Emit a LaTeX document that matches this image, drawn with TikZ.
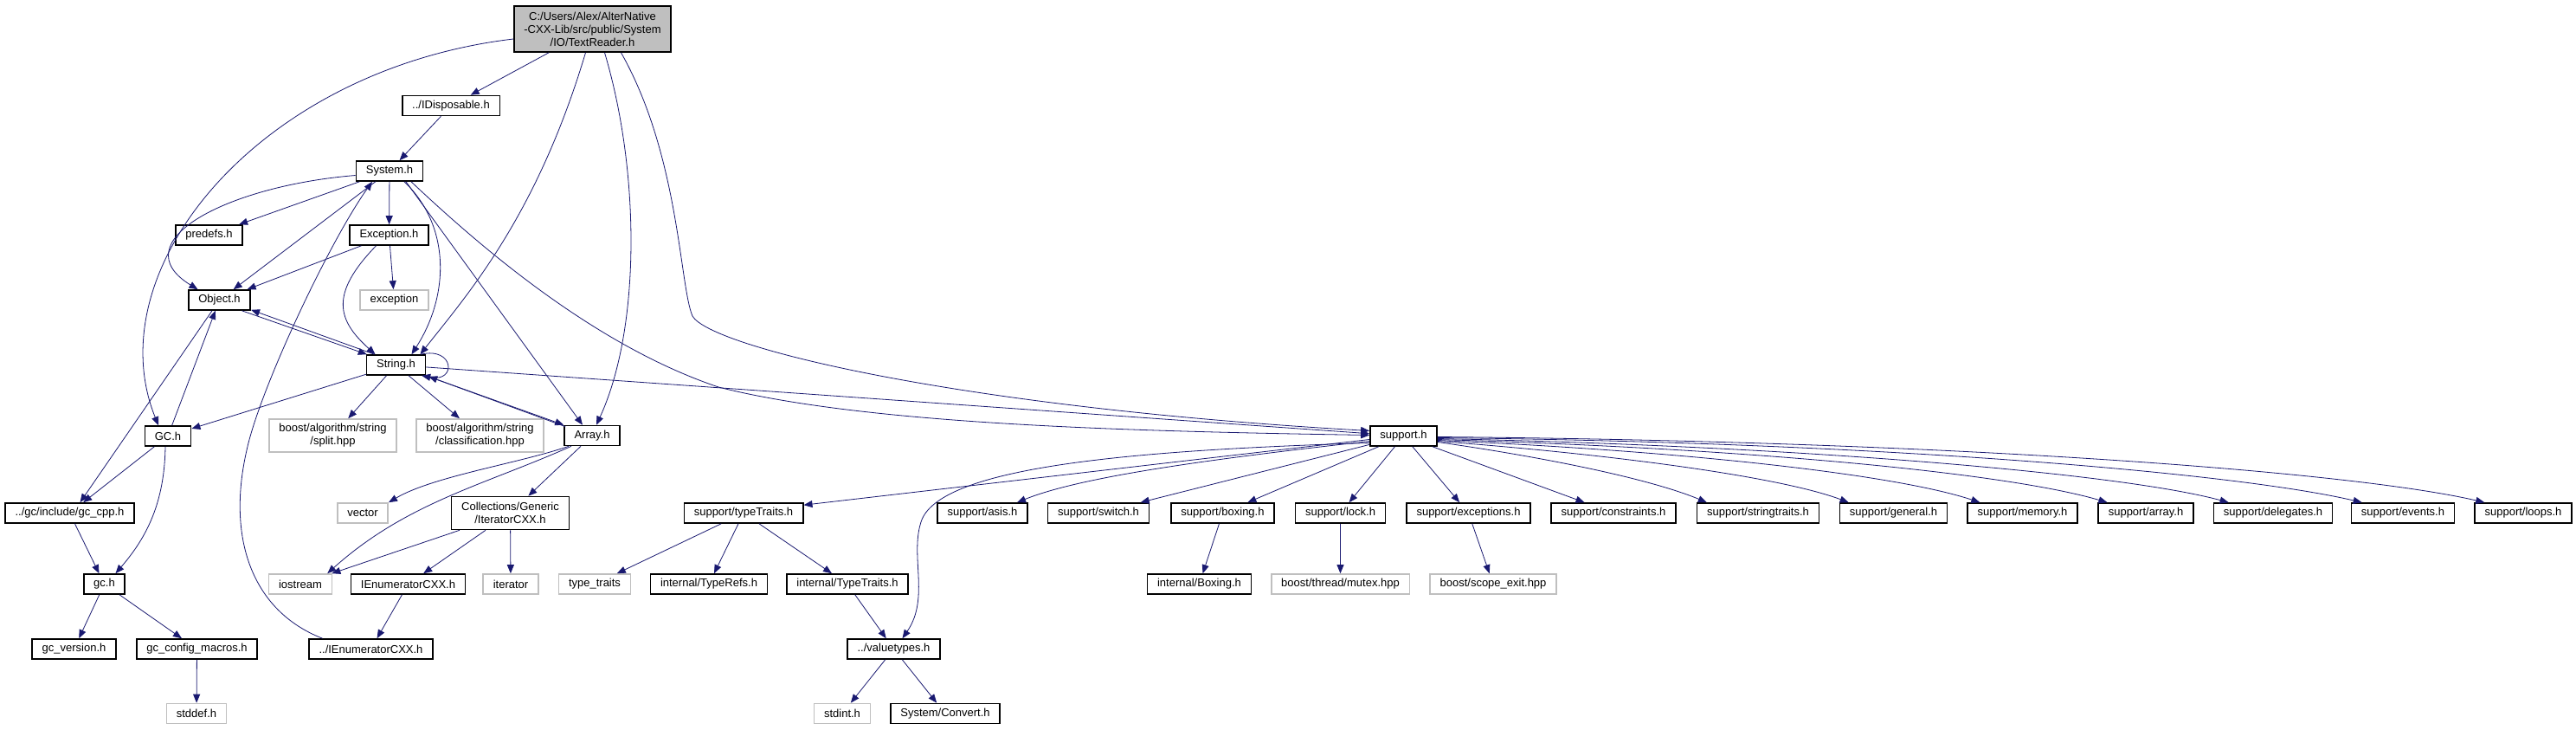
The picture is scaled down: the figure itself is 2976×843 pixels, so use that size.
\documentclass[tikz,border=0pt]{standalone}
\usepackage{fontspec}
\setmainfont{Liberation Sans}
\usetikzlibrary{arrows.meta}
\definecolor{incblue}{HTML}{191970}
\definecolor{extgray}{HTML}{BFBFBF}

\begin{document}
\begin{tikzpicture}[
  x=1pt, y=-1pt,
  hfile/.style={rectangle, draw=black, line width=1.6pt, fill=white,
                inner xsep=11.5pt, inner ysep=2pt, minimum height=23pt,
                align=center, font=\fontsize{13}{15}\selectfont},
  extfile/.style={hfile, draw=extgray},
  rootfile/.style={hfile, fill=extgray, minimum height=53pt},
  twoline/.style={minimum height=38pt},
  inc/.style={-{Triangle[length=10pt,width=8pt]}, color=incblue, line width=0.8pt}
]
  \useasboundingbox (0,0) rectangle (2976,843);

  % Files
  \node[rootfile] (tr) at (684.5,33.5) {C:/Users/Alex/AlterNative\\-CXX-Lib/src/public/System\\/IO/TextReader.h};
  \node[hfile] (idisp) at (521,122) {../IDisposable.h};
  \node[hfile] (sysh) at (450,197.5) {System.h};
  \node[hfile] (predefs) at (241.5,271.5) {predefs.h};
  \node[hfile] (exch) at (449.5,271.5) {Exception.h};
  \node[hfile] (objh) at (253.5,346.5) {Object.h};
  \node[extfile] (excstd) at (455.5,346.5) {exception};
  \node[hfile] (strh) at (457.5,421.5) {String.h};
  \node[hfile] (gcmain) at (194,503.5) {GC.h};
  \node[extfile, twoline] (split) at (384.5,503) {boost/algorithm/string\\/split.hpp};
  \node[extfile, twoline] (classif) at (554.5,503) {boost/algorithm/string\\/classification.hpp};
  \node[hfile] (arrh) at (684,503) {Array.h};
  \node[hfile] (supp) at (1621.5,503.5) {support.h};
  \node[hfile] (gccpp) at (80.5,592.5) {../gc/include/gc\_cpp.h};
  \node[extfile] (vector) at (419,592.5) {vector};
  \node[hfile, twoline] (coll) at (589.5,592.5) {Collections/Generic\\/IteratorCXX.h};
  \node[hfile] (tt) at (859,592.5) {support/typeTraits.h};
  \node[hfile] (asis) at (1135,592.5) {support/asis.h};
  \node[hfile] (switch) at (1269,592.5) {support/switch.h};
  \node[hfile] (boxing) at (1412.5,592.5) {support/boxing.h};
  \node[hfile] (lock) at (1548.5,592.5) {support/lock.h};
  \node[hfile] (sexc) at (1696.5,592.5) {support/exceptions.h};
  \node[hfile] (constr) at (1864,592.5) {support/constraints.h};
  \node[hfile] (strtr) at (2031,592.5) {support/stringtraits.h};
  \node[hfile] (general) at (2187.5,592.5) {support/general.h};
  \node[hfile] (memory) at (2336.5,592.5) {support/memory.h};
  \node[hfile] (sarray) at (2479,592.5) {support/array.h};
  \node[hfile] (deleg) at (2626,592.5) {support/delegates.h};
  \node[hfile] (events) at (2776,592.5) {support/events.h};
  \node[hfile] (loops) at (2915,592.5) {support/loops.h};
  \node[hfile] (gclib) at (120.5,674.5) {gc.h};
  \node[extfile] (iostream) at (347,674.5) {iostream};
  \node[hfile] (ienum) at (471.5,674.5) {IEnumeratorCXX.h};
  \node[extfile] (iterator) at (590,674.5) {iterator};
  \node[extfile] (typetr) at (687,674.5) {type\_traits};
  \node[hfile] (typerefs) at (819,674.5) {internal/TypeRefs.h};
  \node[hfile] (ittr) at (979,674.5) {internal/TypeTraits.h};
  \node[hfile] (iboxing) at (1385.5,674.5) {internal/Boxing.h};
  \node[extfile] (mutex) at (1548.5,674.5) {boost/thread/mutex.hpp};
  \node[extfile] (scope) at (1725,674.5) {boost/scope\_exit.hpp};
  \node[hfile] (gcver) at (85.5,749.5) {gc\_version.h};
  \node[hfile] (gccfg) at (227.5,749.5) {gc\_config\_macros.h};
  \node[hfile] (pienum) at (428.5,749.5) {../IEnumeratorCXX.h};
  \node[hfile] (valtypes) at (1032.5,749.5) {../valuetypes.h};
  \node[extfile] (stddef) at (227,824) {stddef.h};
  \node[extfile] (stdint) at (973,824) {stdint.h};
  \node[hfile] (convert) at (1092,824) {System/Convert.h};

  % TextReader.h
  \draw[inc] (tr) -- (idisp);
  \draw[inc] ([yshift=-11.5pt]tr.west) .. controls (300,80) and (110,310) .. ([xshift=-11pt]gcmain.north);
  \draw[inc] ([xshift=-8pt]tr.south) .. controls (620,250) and (540,340) .. ([xshift=28pt]strh.north);
  \draw[inc] ([xshift=14pt]tr.south) .. controls (740,200) and (740,380) .. ([xshift=5pt]arrh.north);
  \draw[inc] ([xshift=33pt]tr.south) .. controls (785,180) and (785,330) .. (800,365)
             .. controls (820,400) and (1100,470) .. ([yshift=6pt]supp.west);

  % System.h
  \draw[inc] (idisp) -- (sysh);
  \draw[inc] ([yshift=-5pt]sysh.west) .. controls (260,215) and (140,280) .. ([xshift=-25pt]objh.north);
  \draw[inc] (sysh) -- (predefs);
  \draw[inc] (sysh) -- (objh);
  \draw[inc] (sysh) -- (exch);
  \draw[inc] ([xshift=17pt]sysh.south) .. controls (520,260) and (520,340) .. ([xshift=18pt]strh.north);
  \draw[inc] ([xshift=19pt]sysh.south) -- ([xshift=-11pt]arrh.north);
  \draw[inc] ([xshift=25pt]sysh.south) .. controls (560,290) and (690,400) .. (830,447)
             .. controls (1000,490) and (1300,498) .. ([yshift=1pt]supp.west);

  % Exception.h
  \draw[inc] (exch) -- (objh);
  \draw[inc] ([xshift=-15pt]exch.south) .. controls (380,340) and (390,370) .. ([xshift=-24pt]strh.north);
  \draw[inc] (exch) -- (excstd);

  % Object.h and String.h
  \draw[inc] ([xshift=26pt]objh.south) -- ([xshift=1pt]strh.north west);
  \draw[inc] ([xshift=-25pt]strh.north) -- ([yshift=1pt]objh.south east);
  \draw[inc] (objh) -- ([xshift=12pt]gccpp.north);
  \draw[inc] ([xshift=-6pt]strh.north east) .. controls (525,400) and (528,442) .. ([xshift=-5pt]strh.south east);
  \draw[inc] (strh) -- (gcmain);
  \draw[inc] (strh) -- (split);
  \draw[inc] (strh) -- (classif);
  \draw[inc] (strh.south east) -- (arrh.north west);
  \draw[inc] ([shift={(2pt,-2pt)}]arrh.north west) -- ([shift={(3pt,-1pt)}]strh.south east);
  \draw[inc] (strh) -- (supp);

  % GC
  \draw[inc] (gcmain) -- (objh);
  \draw[inc] (gcmain) -- (gccpp);
  \draw[inc] ([xshift=-3pt]gcmain.south) .. controls (190,580) and (170,620) .. ([xshift=13pt]gclib.north);
  \draw[inc] (gccpp) -- (gclib);
  \draw[inc] (gclib) -- (gcver);
  \draw[inc] (gclib) -- (gccfg);
  \draw[inc] (gccfg) -- (stddef);

  % Array.h
  \draw[inc] ([xshift=-27pt]arrh.south) .. controls (600,535) and (500,550) .. (vector.north east);
  \draw[inc] ([xshift=-24pt]arrh.south) .. controls (560,560) and (470,580) .. ([xshift=-6pt]iostream.north east);
  \draw[inc] (arrh) -- (coll);
  \draw[inc] (coll) -- (iostream);
  \draw[inc] (coll) -- (ienum);
  \draw[inc] (coll) -- (iterator);
  \draw[inc] (ienum) -- (pienum);
  \draw[inc] ([xshift=-56pt]pienum.north) .. controls (290,705) and (262,620) .. (285,520)
             .. controls (300,450) and (380,280) .. ([xshift=-20pt]sysh.south);

  % support.h
  \draw[inc] ([yshift=-4pt]supp.west) -- ([yshift=-3pt]tt.north east);
  \draw[inc] ([yshift=-8pt]supp.west) .. controls (1300,520) and (1090,540) .. (1065,600)
             .. controls (1050,640) and (1075,690) .. ([xshift=10pt]valtypes.north);
  \draw[inc] ([yshift=-6pt]supp.west) .. controls (1400,530) and (1250,550) .. ([xshift=40pt]asis.north);
  \draw[inc] (supp) -- (switch);
  \draw[inc] (supp) -- (boxing);
  \draw[inc] (supp) -- (lock);
  \draw[inc] (supp) -- (sexc);
  \draw[inc] (supp) -- (constr);
  \draw[inc] ([yshift=-7pt]supp.east) .. controls +(140,20) and +(-60,-25) .. ([xshift=12pt]strtr.north west);
  \draw[inc] ([yshift=-6pt]supp.east) .. controls +(200,15) and +(-80,-30) .. ([xshift=11pt]general.north west);
  \draw[inc] ([yshift=-5pt]supp.east) .. controls +(280,12) and +(-100,-33) .. ([xshift=15pt]memory.north west);
  \draw[inc] ([yshift=-4pt]supp.east) .. controls +(350,10) and +(-120,-35) .. ([xshift=11pt]sarray.north west);
  \draw[inc] ([yshift=-3pt]supp.east) .. controls +(400,8) and +(-130,-35) .. ([xshift=18pt]deleg.north west);
  \draw[inc] ([yshift=-2pt]supp.east) .. controls +(500,5) and +(-150,-35) .. ([xshift=13pt]events.north west);
  \draw[inc] ([yshift=-1pt]supp.east) .. controls +(600,5) and +(-150,-35) .. ([xshift=12pt]loops.north west);

  % Lower levels
  \draw[inc] (tt) -- (typetr);
  \draw[inc] (tt) -- (typerefs);
  \draw[inc] (tt) -- (ittr);
  \draw[inc] (ittr) -- (valtypes);
  \draw[inc] (valtypes) -- (stdint);
  \draw[inc] (valtypes) -- (convert);
  \draw[inc] (boxing) -- (iboxing);
  \draw[inc] (lock) -- (mutex);
  \draw[inc] (sexc) -- (scope);
\end{tikzpicture}
\end{document}
